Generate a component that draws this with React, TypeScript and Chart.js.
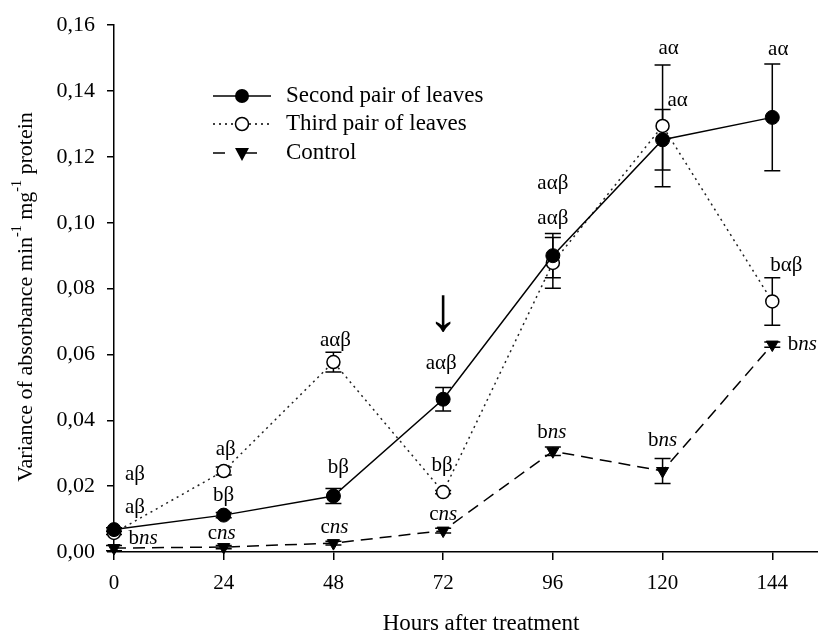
import React, { useEffect, useRef } from 'react';
import { Chart, registerables } from 'chart.js';

Chart.register(...registerables);

// ---------- data ----------
const hours = [0, 24, 48, 72, 96, 120, 144];
const yTicks = [0, 0.02, 0.04, 0.06, 0.08, 0.1, 0.12, 0.14, 0.16];

const seriesNames = ['Second pair of leaves', 'Third pair of leaves', 'Control'];

const secondPair = [0.0068, 0.0112, 0.017, 0.0464, 0.09, 0.1252, 0.132];
const secondErr = [0.0006, 0.0008, 0.0023, 0.0036, 0.0067, 0.0092, 0.0162];

const thirdPair = [0.0058, 0.0246, 0.0577, 0.0182, 0.0878, 0.1294, 0.0761];
const thirdErr = [0.0005, 0.0012, 0.003, 0.0005, 0.0077, 0.0185, 0.0072];

const control = [0.0012, 0.0015, 0.0027, 0.0065, 0.0306, 0.0246, 0.063];
const controlErr = [0.0008, 0.0005, 0.0006, 0.0007, 0.0013, 0.0038, 0.0008];

// significance letters ("_" toggles italic)
const secondLabels = ['aβ', 'bβ', 'bβ', 'aαβ', 'aαβ', 'aα', 'aα'];
const thirdLabels = ['aβ', 'aβ', 'aαβ', 'bβ', 'aαβ', 'aα', 'bαβ'];
const controlLabels = ['b_ns', 'c_ns', 'c_ns', 'c_ns', 'b_ns', 'b_ns', 'b_ns'];

const xTitle = 'Hours after treatment';
const yTitleParts: [string, boolean][] = [
  ['Variance of absorbance min', false],
  ['-1', true],
  [' mg', false],
  ['-1', true],
  [' protein', false],
];
const arrowText = '↓';

// ---------- placement / style ----------
const FONT = '"Liberation Serif", "Times New Roman", serif';
const secondOffsets = [[21, -22], [0, -20], [5, -29], [-2, -36], [0, -37], [15, -39], [6, -68]];
const thirdOffsets = [[21, -58], [2, -22], [2, -22], [-1, -27], [0, -79], [6, -77], [14, -36]];
const controlOffsets = [[29, -10], [-2, -14], [1, -16], [0, -16], [-1, -19], [0, -31], [30, 0]];

const series = [
  { values: secondPair, errors: secondErr, labels: secondLabels, offsets: secondOffsets },
  { values: thirdPair, errors: thirdErr, labels: thirdLabels, offsets: thirdOffsets },
  { values: control, errors: controlErr, labels: controlLabels, offsets: controlOffsets },
];

function drawRich(ctx: CanvasRenderingContext2D, text: string, cx: number, cy: number, size: number) {
  const parts = text.split('_').map((t, i) => [t, i % 2 === 1] as [string, boolean]);
  let total = 0;
  const widths = parts.map(([t, it]) => {
    ctx.font = `${it ? 'italic ' : ''}${size}px ${FONT}`;
    const w = ctx.measureText(t).width;
    total += w;
    return w;
  });
  let x = cx - total / 2;
  ctx.textAlign = 'left';
  ctx.textBaseline = 'middle';
  parts.forEach(([t, it], i) => {
    ctx.font = `${it ? 'italic ' : ''}${size}px ${FONT}`;
    ctx.fillText(t, x, cy);
    x += widths[i];
  });
}

const overlayPlugin = {
  id: 'overlay',
  beforeDatasetsDraw(chart: any) {
    const ctx: CanvasRenderingContext2D = chart.ctx;
    const xs = chart.scales.x;
    const ys = chart.scales.y;
    ctx.save();
    ctx.strokeStyle = '#000';
    ctx.lineWidth = 1.5;
    ctx.setLineDash([]);
    series.forEach((s) => {
      s.values.forEach((v, i) => {
        const e = s.errors[i];
        const px = xs.getPixelForValue(hours[i]);
        const top = ys.getPixelForValue(v + e);
        const bot = ys.getPixelForValue(v - e);
        ctx.beginPath();
        ctx.moveTo(px, top);
        ctx.lineTo(px, bot);
        ctx.moveTo(px - 8, top);
        ctx.lineTo(px + 8, top);
        ctx.moveTo(px - 8, bot);
        ctx.lineTo(px + 8, bot);
        ctx.stroke();
      });
    });
    ctx.restore();
  },
  afterDatasetsDraw(chart: any) {
    const ctx: CanvasRenderingContext2D = chart.ctx;
    const xs = chart.scales.x;
    const ys = chart.scales.y;
    ctx.save();
    ctx.fillStyle = '#000';
    // significance labels
    series.forEach((s) => {
      s.values.forEach((v, i) => {
        const px = xs.getPixelForValue(hours[i]);
        const py = ys.getPixelForValue(v);
        const [dx, dy] = s.offsets[i];
        drawRich(ctx, s.labels[i], px + dx, py + dy, 21);
      });
    });
    // arrow above 72 h
    {
      const px = xs.getPixelForValue(hours[3]);
      const py = ys.getPixelForValue(secondPair[3]);
      ctx.font = `62px ${FONT}`;
      ctx.textAlign = 'center';
      ctx.textBaseline = 'middle';
      ctx.fillText(arrowText, px, py - 86);
    }
    // legend
    const lx0 = 213, lx1 = 271, mx = 242, tx = 286;
    const rows = [96, 124, 153];
    rows.forEach((ry, k) => {
      ctx.save();
      ctx.strokeStyle = '#000';
      ctx.lineWidth = 1.5;
      if (k === 1) ctx.setLineDash([2, 4]);
      if (k === 2) ctx.setLineDash([12, 20]);
      ctx.beginPath();
      ctx.moveTo(lx0, ry);
      ctx.lineTo(lx1, ry);
      ctx.stroke();
      ctx.setLineDash([]);
      if (k === 0) {
        ctx.beginPath();
        ctx.arc(mx, ry, 7, 0, Math.PI * 2);
        ctx.fillStyle = '#000';
        ctx.fill();
      } else if (k === 1) {
        ctx.beginPath();
        ctx.arc(mx, ry, 6.5, 0, Math.PI * 2);
        ctx.fillStyle = '#fff';
        ctx.fill();
        ctx.stroke();
      } else {
        ctx.beginPath();
        ctx.moveTo(mx - 7, ry - 5);
        ctx.lineTo(mx + 7, ry - 5);
        ctx.lineTo(mx, ry + 8);
        ctx.closePath();
        ctx.fillStyle = '#000';
        ctx.fill();
      }
      ctx.restore();
      ctx.fillStyle = '#000';
      ctx.font = `23px ${FONT}`;
      ctx.textAlign = 'left';
      ctx.textBaseline = 'middle';
      ctx.fillText(seriesNames[k], tx, ry);
    });
    // x title
    ctx.font = `23px ${FONT}`;
    ctx.textAlign = 'center';
    ctx.textBaseline = 'middle';
    ctx.fillText(xTitle, 481, 624);
    // y title (rotated, with superscripts)
    ctx.save();
    ctx.translate(26, 297);
    ctx.rotate(-Math.PI / 2);
    const size = 22;
    let total = 0;
    const ws = yTitleParts.map(([t, sup]) => {
      ctx.font = `${sup ? 14 : size}px ${FONT}`;
      const w = ctx.measureText(t).width;
      total += w;
      return w;
    });
    let x = -total / 2;
    ctx.textAlign = 'left';
    ctx.textBaseline = 'middle';
    yTitleParts.forEach(([t, sup], i) => {
      ctx.font = `${sup ? 14 : size}px ${FONT}`;
      ctx.fillText(t, x, sup ? -9 : 0);
      x += ws[i];
    });
    ctx.restore();
    ctx.restore();
  },
};

export default function App() {
  const ref = useRef<HTMLCanvasElement>(null);
  useEffect(() => {
    const chart = new Chart(ref.current as HTMLCanvasElement, {
      type: 'line',
      data: {
        datasets: [
          {
            label: seriesNames[0],
            data: hours.map((h, i) => ({ x: h, y: secondPair[i] })),
            borderColor: '#000',
            borderWidth: 1.5,
            pointStyle: 'circle',
            pointRadius: 7,
            pointBackgroundColor: '#000',
            pointBorderColor: '#000',
            pointBorderWidth: 1,
            clip: false,
          } as any,
          {
            label: seriesNames[1],
            data: hours.map((h, i) => ({ x: h, y: thirdPair[i] })),
            borderColor: '#222',
            borderWidth: 1.5,
            borderDash: [2, 4],
            pointStyle: 'circle',
            pointRadius: 6.5,
            pointBackgroundColor: '#fff',
            pointBorderColor: '#000',
            pointBorderWidth: 1.5,
            clip: false,
          } as any,
          {
            label: seriesNames[2],
            data: hours.map((h, i) => ({ x: h, y: control[i] })),
            borderColor: '#000',
            borderWidth: 1.5,
            borderDash: [12, 7],
            pointStyle: 'triangle',
            rotation: 180,
            pointRadius: 7,
            pointBackgroundColor: '#000',
            pointBorderColor: '#000',
            pointBorderWidth: 1,
            clip: false,
          } as any,
        ],
      },
      options: {
        responsive: false,
        animation: false,
        devicePixelRatio: 1,
        layout: { autoPadding: false, padding: { top: 24, right: 0, bottom: 0, left: 0 } },
        plugins: { legend: { display: false }, tooltip: { enabled: false } },
        elements: { line: { tension: 0 } },
        scales: {
          x: {
            type: 'linear',
            min: 0,
            max: 154,
            afterBuildTicks: (s: any) => {
              s.ticks = hours.map((v) => ({ value: v }));
            },
            afterFit: (s: any) => {
              s.height = 83;
            },
            grid: { drawOnChartArea: false, drawTicks: true, tickLength: 8, color: '#000', lineWidth: 1.5 },
            border: { color: '#000', width: 1.5 },
            ticks: { color: '#000', font: { family: FONT, size: 21 }, padding: 11, maxRotation: 0, autoSkip: false },
          },
          y: {
            type: 'linear',
            min: 0,
            max: 0.16,
            afterBuildTicks: (s: any) => {
              s.ticks = yTicks.map((v) => ({ value: v }));
            },
            afterFit: (s: any) => {
              s.width = 114;
            },
            grid: { drawOnChartArea: false, drawTicks: true, tickLength: 7, color: '#000', lineWidth: 1.5 },
            border: { color: '#000', width: 1.5 },
            ticks: {
              color: '#000',
              font: { family: FONT, size: 22 },
              padding: 12,
              autoSkip: false,
              callback: (v: any) => Number(v).toFixed(2).replace('.', ','),
            },
          },
        },
      } as any,
      plugins: [overlayPlugin],
    });
    return () => chart.destroy();
  }, []);
  return (
    <div style={{ position: 'fixed', left: 0, top: 0, width: 818, height: 635, background: '#fff' }}>
      <canvas ref={ref} width={818} height={635} />
    </div>
  );
}
